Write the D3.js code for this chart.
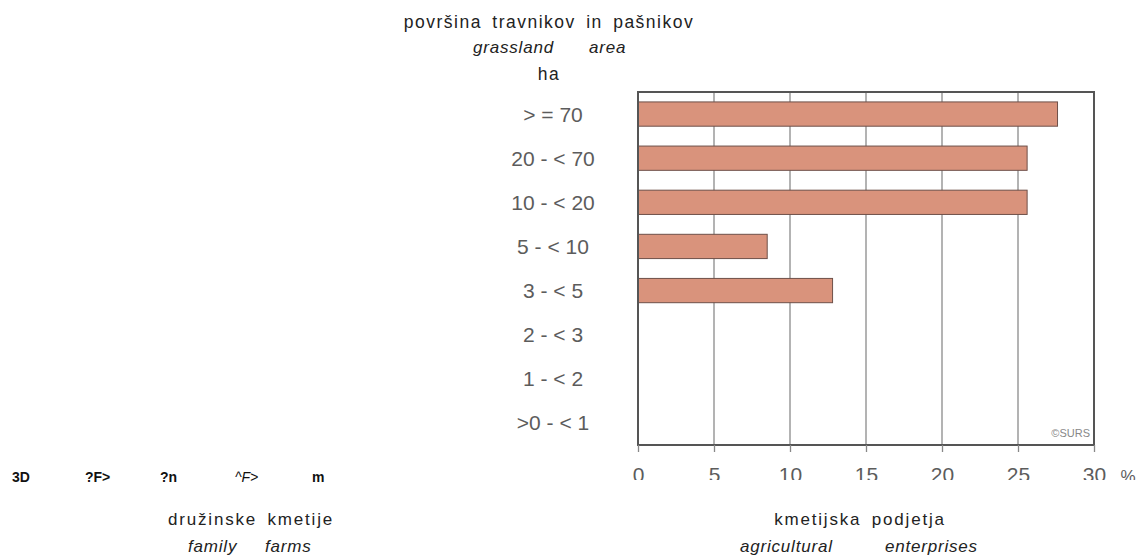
<!DOCTYPE html>
<html>
<head>
<meta charset="utf-8">
<script src="https://cdn.jsdelivr.net/npm/d3@7"></script>
<style>
  body { margin: 0; background: #fff; }
  svg { font-family: "Liberation Sans", Arial, sans-serif; }
  .cat { font-size: 21px; fill: #5c5c5c; }
  .tick text { font-size: 21px; fill: #5c5c5c; }
  .cap { font-size: 17.5px; fill: #222; letter-spacing: 1.5px; word-spacing: 4px; }
  .sub { font-size: 17px; fill: #222; letter-spacing: 1.8px; word-spacing: 4px; }
  .capi { font-size: 17px; fill: #222; font-style: italic; letter-spacing: 0.8px; }
</style>
</head>
<body>
<svg width="1136" height="555"></svg>
<script>
// Data
const categories = ["> = 70", "20 - < 70", "10 - < 20", "5 - < 10", "3 - < 5", "2 - < 3", "1 - < 2", ">0 - < 1"];
const shares = [27.6, 25.6, 25.6, 8.5, 12.8, 0, 0, 0];
const tickValues = [0, 5, 10, 15, 20, 25, 30];

const margin = {top: 92, right: 42, bottom: 110, left: 638};
const svg = d3.select("svg");
const width = 1136 - margin.left - margin.right;
const height = 555 - margin.top - margin.bottom;

const x = d3.scaleLinear().domain([0, 30]).range([0, width]);
const y = d3.scaleBand()
    .domain(categories)
    .range([0, height])
    .paddingInner(0.45)
    .paddingOuter(0.225);

const g = svg.append("g")
    .attr("transform", `translate(${margin.left},${margin.top})`);

// vertical grid lines
g.selectAll(".grid")
    .data(tickValues.slice(1, -1))
    .enter()
    .append("line")
    .attr("x1", d => x(d))
    .attr("x2", d => x(d))
    .attr("y1", 0)
    .attr("y2", height)
    .attr("stroke", "#8a8a8a")
    .attr("stroke-width", 1.3);

// bars
g.selectAll(".bar")
    .data(categories.map((c, i) => ({cat: c, v: shares[i]})).filter(d => d.v > 0))
    .enter()
    .append("rect")
    .attr("class", "bar")
    .attr("x", 0)
    .attr("y", d => y(d.cat))
    .attr("width", d => x(d.v))
    .attr("height", y.bandwidth())
    .attr("fill", "#d9937c")
    .attr("stroke", "#6e5049")
    .attr("stroke-width", 1);

// frame
g.append("rect")
    .attr("x", 0)
    .attr("y", 0)
    .attr("width", width)
    .attr("height", height)
    .attr("fill", "none")
    .attr("stroke", "#555")
    .attr("stroke-width", 2);

// x axis, labels cut at the bottom like the source
svg.append("clipPath").attr("id", "cut")
    .append("rect").attr("x", -700).attr("y", -100).attr("width", 1300).attr("height", 135);

const axis = g.append("g")
    .attr("transform", `translate(0,${height})`)
    .attr("clip-path", "url(#cut)")
    .call(d3.axisBottom(x).tickValues(tickValues).tickSize(7).tickPadding(15).tickFormat(d3.format("d")));
axis.select(".domain").remove();
axis.selectAll(".tick line").attr("stroke", "#888").attr("stroke-width", 1.3);

axis.append("text")
    .attr("x", x(30) + 34)
    .attr("y", 37)
    .attr("fill", "#5c5c5c")
    .style("font-size", "17px")
    .text("%");

// category labels
g.selectAll(".cat")
    .data(categories)
    .enter()
    .append("text")
    .attr("class", "cat")
    .attr("x", 553 - margin.left)
    .attr("y", d => y(d) + y.bandwidth() / 2)
    .attr("dy", "0.36em")
    .attr("text-anchor", "middle")
    .text(d => d);

g.append("text")
    .attr("x", width - 4)
    .attr("y", height - 8)
    .attr("text-anchor", "end")
    .attr("fill", "#888")
    .style("font-size", "11px")
    .text("©SURS");

// titles
svg.append("text").attr("class", "cap").attr("x", 549).attr("y", 28)
    .attr("text-anchor", "middle").text("površina travnikov in pašnikov");
svg.append("text").attr("class", "capi").attr("x", 473).attr("y", 53).text("grassland");
svg.append("text").attr("class", "capi").attr("x", 589).attr("y", 53).text("area");
svg.append("text").attr("class", "cap").attr("x", 549).attr("y", 80)
    .attr("text-anchor", "middle").text("ha");

// left-side leftovers
const junk = [["3D", 12], ["?F>", 85], ["?n", 160], ["^F>", 235], ["m", 312]];
svg.selectAll(".junk")
    .data(junk)
    .enter()
    .append("text")
    .attr("x", d => d[1])
    .attr("y", 482)
    .attr("fill", "#111")
    .style("font-size", "14px")
    .style("font-weight", d => d[0] === "^F>" ? "normal" : "bold")
    .style("font-style", d => d[0] === "^F>" ? "italic" : "normal")
    .text(d => d[0]);

svg.append("text").attr("class", "sub").attr("x", 251).attr("y", 525)
    .attr("text-anchor", "middle").text("družinske kmetije");
svg.append("text").attr("class", "capi").attr("x", 188).attr("y", 552).text("family");
svg.append("text").attr("class", "capi").attr("x", 265).attr("y", 552).text("farms");

svg.append("text").attr("class", "sub").attr("x", 860).attr("y", 525)
    .attr("text-anchor", "middle").text("kmetijska podjetja");
svg.append("text").attr("class", "capi").attr("x", 740).attr("y", 552).text("agricultural");
svg.append("text").attr("class", "capi").attr("x", 885).attr("y", 552).text("enterprises");
</script>
</body>
</html>
